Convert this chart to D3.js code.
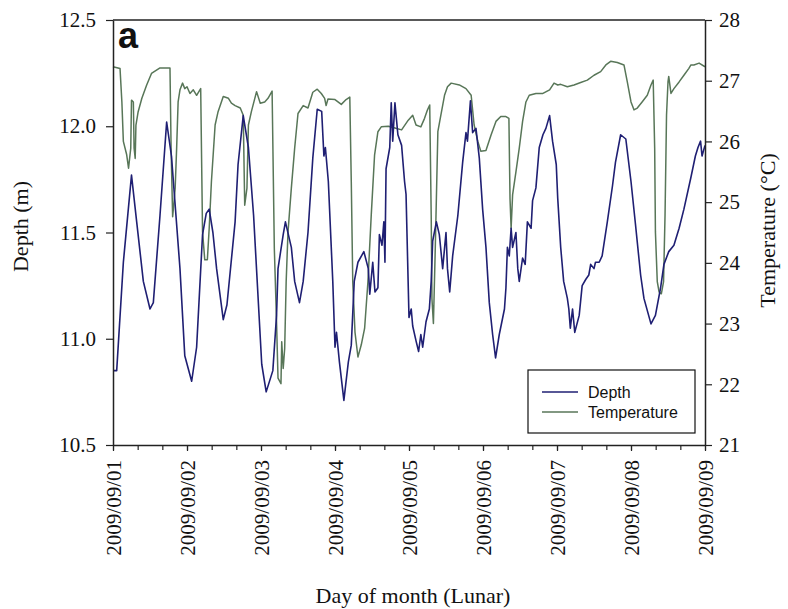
<!DOCTYPE html>
<html>
<head>
<meta charset="utf-8">
<script src="https://cdn.jsdelivr.net/npm/d3@7"></script>
<style>
  body { margin: 0; background: #fff; }
  .tick text { font-family: "Liberation Serif", "Times New Roman", serif; font-size: 21px; fill: #111; }
  .axis-title { font-family: "Liberation Serif", "Times New Roman", serif; font-size: 22px; fill: #111; }
  .legend text { font-family: "Liberation Sans", Arial, sans-serif; font-size: 16px; fill: #111; }
</style>
</head>
<body>
<div id="chart"></div>
<script>
// chart size
var svgWidth = 788;
var svgHeight = 609;

var margin = { top: 20, right: 83, bottom: 164, left: 113 };

var width = svgWidth - margin.left - margin.right;
var height = svgHeight - margin.top - margin.bottom;

// data: time in days after 2009/09/01 00:00
var depthTime = [0.00, 0.05, 0.14, 0.25, 0.32, 0.41, 0.50, 0.545, 0.635, 0.725, 0.79, 0.905, 0.97, 1.063, 1.13,
  1.21, 1.26, 1.30, 1.35, 1.40, 1.49, 1.54, 1.65, 1.69, 1.76, 1.83, 1.90, 2.01, 2.07, 2.16, 2.21, 2.23, 2.30,
  2.33, 2.41, 2.455, 2.52, 2.57, 2.635, 2.70, 2.76, 2.82, 2.85, 2.87, 2.91, 2.97, 3.00, 3.02, 3.06, 3.12, 3.18,
  3.22, 3.26, 3.31, 3.39, 3.45, 3.47, 3.51, 3.54, 3.58, 3.60, 3.635, 3.66, 3.675, 3.69, 3.74, 3.76, 3.78, 3.81,
  3.85, 3.90, 3.94, 3.96, 4.00, 4.03, 4.05, 4.095, 4.13, 4.16, 4.185, 4.23, 4.275, 4.30, 4.32, 4.37, 4.41,
  4.455, 4.50, 4.52, 4.55, 4.59, 4.66, 4.725, 4.77, 4.79, 4.83, 4.86, 4.905, 4.95, 4.995, 5.04, 5.085, 5.13,
  5.17, 5.22, 5.29, 5.31, 5.33, 5.355, 5.38, 5.40, 5.445, 5.47, 5.49, 5.535, 5.57, 5.60, 5.65, 5.67, 5.715,
  5.76, 5.81, 5.85, 5.90, 5.94, 5.99, 6.01, 6.05, 6.09, 6.14, 6.16, 6.18, 6.21, 6.24, 6.30, 6.34, 6.39, 6.43,
  6.455, 6.50, 6.52, 6.57, 6.61, 6.68, 6.75, 6.79, 6.86, 6.93, 7.00, 7.06, 7.13, 7.175, 7.27, 7.33, 7.40,
  7.445, 7.51, 7.58, 7.65, 7.715, 7.81, 7.87, 7.905, 7.94, 7.96, 8.00];
var depthValues = [10.85, 10.85, 11.36, 11.77, 11.55, 11.27, 11.14, 11.17, 11.58, 12.02, 11.86, 11.33, 10.92, 10.80, 10.96,
  11.49, 11.59, 11.61, 11.50, 11.33, 11.09, 11.16, 11.55, 11.82, 12.05, 11.90, 11.58, 10.88, 10.75, 10.85, 11.11, 11.33, 11.49,
  11.55, 11.43, 11.27, 11.17, 11.27, 11.50, 11.85, 12.08, 12.07, 11.86, 11.90, 11.74, 11.27, 10.96, 11.03, 10.89, 10.71, 10.89,
  10.97, 11.27, 11.36, 11.41, 11.33, 11.21, 11.36, 11.22, 11.24, 11.49, 11.44, 11.55, 11.36, 11.80, 11.90, 12.11, 11.93, 12.11,
  11.96, 11.91, 11.74, 11.68, 11.10, 11.14, 11.06, 10.99, 10.94, 11.02, 10.96, 11.08, 11.14, 11.27, 11.46, 11.55, 11.49,
  11.33, 11.50, 11.33, 11.22, 11.39, 11.58, 11.83, 11.97, 11.93, 12.12, 11.97, 11.99, 11.85, 11.61, 11.43, 11.17, 11.02,
  10.91, 11.02, 11.14, 11.24, 11.43, 11.39, 11.52, 11.43, 11.50, 11.33, 11.27, 11.38, 11.35, 11.55, 11.52, 11.65, 11.71,
  11.90, 11.96, 11.99, 12.05, 11.93, 11.82, 11.66, 11.43, 11.27, 11.19, 11.14, 11.05, 11.14, 11.03, 11.11, 11.25, 11.28, 11.30,
  11.35, 11.33, 11.36, 11.36, 11.39, 11.55, 11.72, 11.83, 11.96, 11.94, 11.74, 11.54, 11.30, 11.19, 11.07, 11.11, 11.24,
  11.35, 11.41, 11.44, 11.52, 11.61, 11.76, 11.86, 11.90, 11.93, 11.86, 11.91];

var tempTime = [0.00, 0.095, 0.12, 0.14, 0.185, 0.21, 0.24, 0.25, 0.275, 0.285, 0.30, 0.31, 0.34, 0.39, 0.455, 0.52,
  0.635, 0.77, 0.785, 0.806, 0.825, 0.84, 0.86, 0.88, 0.905, 0.94, 0.97, 1.00, 1.04, 1.085, 1.13, 1.185, 1.21,
  1.24, 1.275, 1.30, 1.33, 1.38, 1.42, 1.49, 1.56, 1.60, 1.65, 1.72, 1.76, 1.78, 1.81, 1.83, 1.87, 1.94, 1.99,
  2.05, 2.095, 2.15, 2.18, 2.21, 2.23, 2.27, 2.28, 2.30, 2.32, 2.34, 2.365, 2.41, 2.455, 2.50, 2.57, 2.635,
  2.70, 2.76, 2.815, 2.86, 2.88, 2.905, 3.00, 3.085, 3.15, 3.20, 3.22, 3.24, 3.27, 3.31, 3.355, 3.40, 3.445,
  3.49, 3.535, 3.58, 3.625, 3.72, 3.81, 3.90, 3.99, 4.05, 4.095, 4.16, 4.21, 4.25, 4.28, 4.30, 4.31, 4.33,
  4.355, 4.39, 4.43, 4.48, 4.52, 4.57, 4.68, 4.77, 4.84, 4.88, 4.93, 4.97, 5.04, 5.11, 5.175, 5.24, 5.31,
  5.35, 5.365, 5.38, 5.40, 5.445, 5.49, 5.535, 5.58, 5.625, 5.715, 5.81, 5.90, 5.96, 6.01, 6.05, 6.14, 6.23,
  6.32, 6.41, 6.50, 6.59, 6.66, 6.725, 6.815, 6.905, 6.95, 7.00, 7.04, 7.085, 7.15, 7.22, 7.27, 7.30, 7.32,
  7.33, 7.355, 7.38, 7.41, 7.44, 7.46, 7.48, 7.50, 7.51, 7.54, 7.58, 7.65, 7.715, 7.78, 7.81, 7.85, 7.92, 8.00];
var tempValues = [27.23, 27.20, 26.65, 26.00, 25.78, 25.56, 25.89, 26.68, 26.65, 25.89, 25.72, 26.27, 26.49, 26.71, 26.93, 27.12,
  27.21, 27.21, 25.89, 24.76, 25.01, 25.23, 25.89, 26.65, 26.85, 26.96, 26.87, 26.90, 26.79, 26.85, 26.76, 26.87, 24.51,
  24.05, 24.05, 24.57, 25.34, 26.27, 26.49, 26.74, 26.71, 26.63, 26.59, 26.55, 26.43, 24.95, 25.23, 26.27, 26.49, 26.82, 26.63,
  26.65, 26.71, 26.83, 24.24, 23.03, 22.10, 22.01, 22.70, 22.26, 22.59, 23.69, 24.51, 25.23, 25.89, 26.46, 26.59, 26.55,
  26.81, 26.86, 26.79, 26.71, 26.59, 26.70, 26.69, 26.61, 26.69, 26.73, 25.34, 23.69, 22.86, 22.45, 22.65, 22.92, 23.69,
  24.79, 25.78, 26.16, 26.24, 26.25, 26.22, 26.19, 26.35, 26.43, 26.27, 26.24, 26.38, 26.52, 26.60, 24.79, 23.41, 23.00,
  24.24, 26.16, 26.43, 26.76, 26.90, 26.96, 26.93, 26.87, 26.76, 26.27, 26.00, 25.84, 25.85, 26.11, 26.33, 26.41, 26.41,
  26.38, 25.06, 24.57, 25.12, 25.50, 25.89, 26.33, 26.65, 26.76, 26.79, 26.79, 26.85, 26.96, 26.93, 26.94, 26.90, 26.93,
  26.97, 27.01, 27.09, 27.15, 27.26, 27.32, 27.30, 27.26, 26.98, 26.65, 26.52, 26.55, 26.65, 26.76, 26.93, 27.01, 25.89,
  24.51, 23.69, 23.52, 23.49, 23.69, 24.79, 26.43, 26.98, 27.07, 26.79, 26.87, 26.98, 27.09, 27.20, 27.26, 27.26, 27.29, 27.23];

var depthTicks = [10.5, 11.0, 11.5, 12.0, 12.5];
var tempTicks = [21, 22, 23, 24, 25, 26, 27, 28];
var dateLabels = ["2009/09/01", "2009/09/02", "2009/09/03", "2009/09/04", "2009/09/05",
  "2009/09/06", "2009/09/07", "2009/09/08", "2009/09/09"];
var seriesNames = ["Depth", "Temperature"];
var seriesColors = ["#1f1f73", "#587658"];

var parseDate = d3.utcParse("%Y/%m/%d");
var startDate = parseDate(dateLabels[0]);
function toDate(t) { return new Date(startDate.getTime() + t * 864e5); }

var svg = d3.select("#chart")
  .append("svg")
  .attr("width", svgWidth)
  .attr("height", svgHeight);

var chartGroup = svg.append("g")
  .attr("transform", `translate(${margin.left}, ${margin.top})`);

// scales
var xScale = d3.scaleUtc()
  .domain([startDate, parseDate(dateLabels[dateLabels.length - 1])])
  .range([0, width]);

var yDepth = d3.scaleLinear().domain([10.5, 12.5]).range([height, 0]);
var yTemp = d3.scaleLinear().domain([21, 28]).range([height, 0]);

// lines
var depthData = depthTime.map((t, i) => ({ date: toDate(t), value: depthValues[i] }));
var tempData = tempTime.map((t, i) => ({ date: toDate(t), value: tempValues[i] }));

var depthLine = d3.line().x(d => xScale(d.date)).y(d => yDepth(d.value));
var tempLine = d3.line().x(d => xScale(d.date)).y(d => yTemp(d.value));

var plot = chartGroup.append("g");

plot.append("path")
  .datum(tempData)
  .attr("fill", "none")
  .attr("stroke", seriesColors[1])
  .attr("stroke-width", 1.5)
  .attr("stroke-linejoin", "round")
  .attr("d", tempLine);

plot.append("path")
  .datum(depthData)
  .attr("fill", "none")
  .attr("stroke", seriesColors[0])
  .attr("stroke-width", 1.6)
  .attr("stroke-linejoin", "round")
  .attr("d", depthLine);

// axes
var axisColor = "#222";

var minorAxis = d3.axisBottom(xScale)
  .ticks(d3.utcHour.every(8))
  .tickSize(5)
  .tickFormat("");

chartGroup.append("g")
  .attr("transform", `translate(0, ${height})`)
  .call(minorAxis)
  .call(g => g.select(".domain").remove())
  .call(g => g.selectAll("line").attr("stroke", axisColor).attr("stroke-width", 1.2));

var bottomAxis = d3.axisBottom(xScale)
  .tickValues(dateLabels.map(parseDate))
  .tickSize(6)
  .tickSizeOuter(0)
  .tickFormat(d3.utcFormat("%Y/%m/%d"));

var xAxis = chartGroup.append("g")
  .attr("transform", `translate(0, ${height})`)
  .call(bottomAxis);

xAxis.selectAll("text")
  .attr("transform", "rotate(-90)")
  .attr("text-anchor", "end")
  .attr("x", -15)
  .attr("y", 0)
  .attr("dy", "0.35em");

var leftAxis = d3.axisLeft(yDepth)
  .tickValues(depthTicks)
  .tickSize(7)
  .tickSizeOuter(0)
  .tickPadding(10)
  .tickFormat(d3.format(".1f"));

chartGroup.append("g").call(leftAxis);

var rightAxis = d3.axisRight(yTemp)
  .tickValues(tempTicks)
  .tickSize(7)
  .tickSizeOuter(0)
  .tickPadding(7)
  .tickFormat(d3.format("d"));

chartGroup.append("g")
  .attr("transform", `translate(${width}, 0)`)
  .call(rightAxis);

// top border
chartGroup.append("line")
  .attr("x1", 0).attr("x2", width)
  .attr("y1", 0).attr("y2", 0)
  .attr("stroke", axisColor)
  .attr("stroke-width", 1.5);

chartGroup.selectAll(".domain").attr("stroke", axisColor).attr("stroke-width", 1.5);
chartGroup.selectAll(".tick line").attr("stroke", axisColor).attr("stroke-width", 1.2);

// axis titles
chartGroup.append("text")
  .attr("class", "axis-title")
  .attr("transform", "rotate(-90)")
  .attr("x", -(height / 2) + 6)
  .attr("y", -85)
  .attr("text-anchor", "middle")
  .text("Depth (m)");

chartGroup.append("text")
  .attr("class", "axis-title")
  .attr("transform", "rotate(-90)")
  .attr("x", -(height / 2) + 2)
  .attr("y", width + 70)
  .attr("text-anchor", "middle")
  .text("Temperature (°C)");

chartGroup.append("text")
  .attr("class", "axis-title")
  .attr("x", width / 2 + 4)
  .attr("y", height + 158)
  .attr("text-anchor", "middle")
  .text("Day of month (Lunar)");

// panel letter
chartGroup.append("text")
  .attr("x", 5)
  .attr("y", 28)
  .attr("font-family", "Liberation Sans, Arial, sans-serif")
  .attr("font-weight", "bold")
  .attr("font-size", 36)
  .attr("fill", "#111")
  .text("a");

// legend
var legend = chartGroup.append("g")
  .attr("class", "legend")
  .attr("transform", `translate(${415}, ${350})`);

legend.append("rect")
  .attr("width", 167)
  .attr("height", 63)
  .attr("fill", "#fff")
  .attr("stroke", "#111")
  .attr("stroke-width", 1.2);

seriesNames.forEach(function(name, i) {
  var row = legend.append("g").attr("transform", `translate(0, ${22 + i * 20})`);
  row.append("line")
    .attr("x1", 14).attr("x2", 50)
    .attr("stroke", seriesColors[i])
    .attr("stroke-width", 1.5);
  row.append("text")
    .attr("x", 60)
    .attr("dy", "0.35em")
    .text(name);
});
</script>
</body>
</html>
